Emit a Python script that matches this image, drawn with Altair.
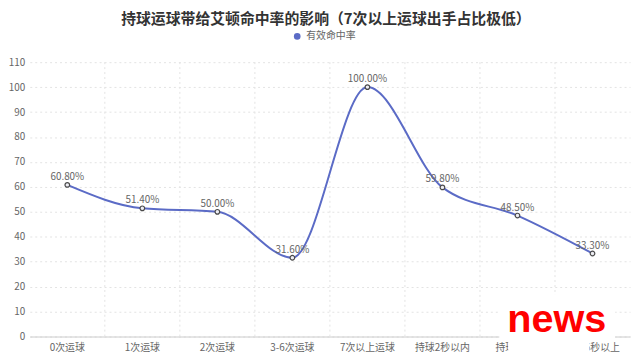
import altair as alt
import pandas as pd

categories = ["0次运球", "1次运球", "2次运球", "3-6次运球", "7次以上运球",
              "持球2秒以内", "持球2-6秒", "持球6秒以上"]
rates = [60.8, 51.4, 50.0, 31.6, 100.0, 59.8, 48.5, 33.3]
y_ticks = list(range(0, 111, 10))
series_name = "有效命中率"
title_text = "持球运球带给艾顿命中率的影响（7次以上运球出手占比极低）"
watermark = "news"

FONT = "Noto Sans CJK SC"
COLOR = "#5b6bc6"
GRID = "#e3e3e3"

df = pd.DataFrame({"cat": categories, "rate": rates, "series": series_name})
df["label"] = [f"{v:.2f}%" for v in rates]
grid_df = pd.DataFrame({"cat": categories[1:]})
wm_df = pd.DataFrame({"w": [watermark]})

x_scale = alt.Scale(type="band", domain=categories, paddingInner=0, paddingOuter=0)
y_scale = alt.Scale(domain=[0, 110], nice=False, zero=True)

x_axis = alt.Axis(title=None, labelAngle=0, grid=False, ticks=False,
                  domainColor="#cccccc", labelColor="#666666", labelFont=FONT,
                  labelFontSize=10, labelPadding=6)
y_axis = alt.Axis(title=None, values=y_ticks, tickCount=12, grid=True, gridDash=[2, 3],
                  gridColor=GRID, domain=False, ticks=False, labelColor="#666666",
                  labelFont=FONT, labelFontSize=10, labelPadding=5, labelOverlap=False)

base = alt.Chart(df)

vgrid = alt.Chart(grid_df).mark_rule(color=GRID, strokeDash=[2, 3], strokeWidth=1).encode(
    x=alt.X("cat:N", scale=x_scale, bandPosition=0, axis=x_axis),
)

line = base.mark_line(interpolate="monotone", strokeWidth=2).encode(
    x=alt.X("cat:N", scale=x_scale, bandPosition=0.5, axis=x_axis),
    y=alt.Y("rate:Q", scale=y_scale, axis=y_axis),
    color=alt.Color("series:N", scale=alt.Scale(range=[COLOR]),
                    legend=alt.Legend(title=None, orient="none", legendX=265, legendY=-31,
                                      symbolType="circle", symbolFillColor=COLOR,
                                      symbolStrokeColor=COLOR, symbolStrokeWidth=0,
                                      symbolSize=45, labelFont=FONT, labelFontSize=10,
                                      labelColor="#666666", labelOffset=4)),
)

points = base.mark_point(shape="circle", filled=False, size=22, stroke="#4a4a4a",
                         fill="#eeeef4", fillOpacity=1, strokeWidth=1.2, opacity=1).encode(
    x=alt.X("cat:N", scale=x_scale, bandPosition=0.5, axis=x_axis),
    y=alt.Y("rate:Q", scale=y_scale, axis=y_axis),
)

labels = base.mark_text(dy=-8, font=FONT, fontSize=10, color="#666666").encode(
    x=alt.X("cat:N", scale=x_scale, bandPosition=0.5, axis=x_axis),
    y=alt.Y("rate:Q", scale=y_scale, axis=y_axis),
    text="label:N",
)

wm_rect1 = alt.Chart(wm_df).mark_rect(color="white").encode(
    x=alt.value(474), x2=alt.value(591), y=alt.value(235), y2=alt.value(280))
wm_rect2 = alt.Chart(wm_df).mark_rect(color="white").encode(
    x=alt.value(483), x2=alt.value(565), y=alt.value(279), y2=alt.value(296))
wm_text = alt.Chart(wm_df).mark_text(font="Liberation Sans", fontWeight="bold", fontSize=40,
                                      color="#ff0000", align="center", baseline="alphabetic").encode(
    x=alt.value(532), y=alt.value(272), text="w:N")

chart = alt.layer(vgrid, line, points, labels, wm_rect1, wm_rect2, wm_text).properties(
    width=606, height=277,
    title=alt.TitleParams(title_text, anchor="middle", frame="group", dx=-4, offset=5,
                          font=FONT, fontSize=15, fontWeight="bold", color="#333333"),
    autosize=alt.AutoSizeParams(type="none"),
    padding={"left": 22, "top": 53, "right": 2, "bottom": 21},
).configure_view(stroke=None)

chart.save("out.html", embed_options={"renderer": "svg", "actions": False})
